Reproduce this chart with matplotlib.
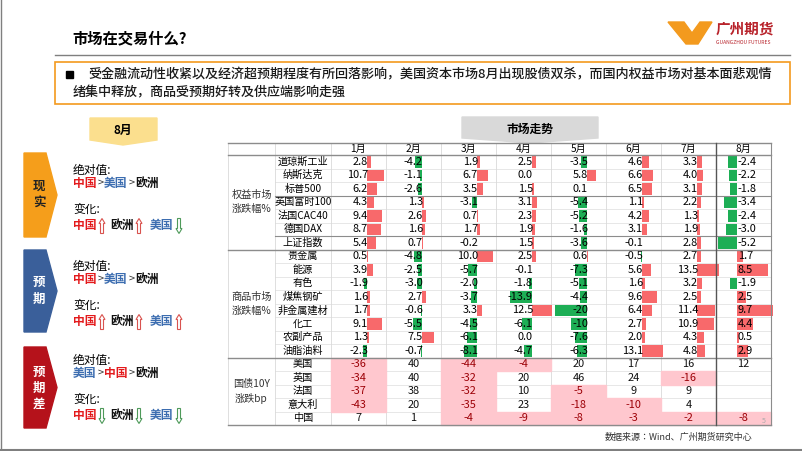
import matplotlib
matplotlib.use('Agg')
import matplotlib.pyplot as plt
from matplotlib.patches import Rectangle, Polygon

plt.rcParams['font.family'] = ['Noto Sans CJK JP', 'DejaVu Sans']

# ---- data ----
months = ['1月', '2月', '3月', '4月', '5月', '6月', '7月', '8月']

equity_names = ['道琼斯工业', '纳斯达克', '标普500', '英国富时100', '法国CAC40', '德国DAX', '上证指数']
equity_values = [
    [2.8, -4.2, 1.9, 2.5, -3.5, 4.6, 3.3, -2.4],
    [10.7, -1.1, 6.7, 0.0, 5.8, 6.6, 4.0, -2.2],
    [6.2, -2.6, 3.5, 1.5, 0.1, 6.5, 3.1, -1.8],
    [4.3, 1.3, -3.1, 3.1, -5.4, 1.1, 2.2, -3.4],
    [9.4, 2.6, 0.7, 2.3, -5.2, 4.2, 1.3, -2.4],
    [8.7, 1.6, 1.7, 1.9, -1.6, 3.1, 1.9, -3.0],
    [5.4, 0.7, -0.2, 1.5, -3.6, -0.1, 2.8, -5.2],
]

commodity_names = ['贵金属', '能源', '有色', '煤焦钢矿', '非金属建材', '化工', '农副产品', '油脂油料']
commodity_values = [
    [0.5, -4.8, 10.0, 2.5, 0.6, -0.5, 2.7, 1.7],
    [3.9, -2.5, -5.7, -0.1, -7.3, 5.6, 13.5, 8.5],
    [-1.9, -3.0, -2.0, -1.8, -5.1, 1.6, 3.2, -1.9],
    [1.6, 2.7, -3.7, -13.9, -4.4, 9.6, 2.5, 2.5],
    [1.7, -0.6, 3.3, 12.5, -20, 6.4, 11.4, 9.7],
    [9.1, -5.5, -4.5, -6.1, -10, 2.7, 10.9, 4.4],
    [1.3, 7.5, -6.1, 0.0, -7.6, 2.0, 4.3, 0.5],
    [-2.3, -0.7, -8.1, -4.7, -6.3, 13.1, 4.8, 2.9],
]

bond_names = ['美国', '英国', '法国', '意大利', '中国']
bond_values = [
    [-36, 40, -44, -4, 20, 17, 16, 12],
    [-34, 40, -32, 20, 46, 24, -16, None],
    [-37, 38, -32, 10, -5, 9, 9, None],
    [-43, 20, -35, 23, -18, -10, 4, None],
    [7, 1, -4, -9, -8, -3, -2, -8],
]

RED = '#F8696B'
GREEN = '#1DAE55'

fig = plt.figure(figsize=(8.02, 4.51), dpi=100)
ax = fig.add_axes([0, 0, 1, 1])
ax.set_xlim(0, 802)
ax.set_ylim(451, 0)
ax.axis('off')

# ---- header ----
ax.text(72, 38, '市场在交易什么?', fontsize=11, weight='bold', va='center')
ax.plot([55, 790], [55, 55], color='#7F7F7F', lw=1)
ax.add_patch(Polygon([[668, 22], [684, 22], [692, 33], [700, 22], [712, 22], [698, 44], [686, 44]],
                     closed=True, color='#F39A1E'))
ax.text(716, 29, '广州期货', fontsize=10.5, weight='bold', color='#B8232B', va='center')
ax.text(716, 42, 'GUANGZHOU FUTURES', fontsize=3.6, color='#B8232B', va='center')
ax.plot([0, 802], [450, 450], color='#7F7F7F', lw=1.5)
ax.plot([1, 1], [0, 451], color='#7F7F7F', lw=1)

# headline box
ax.add_patch(Rectangle((55, 62), 735, 42, fill=False, ec='#F39A1E', lw=1.2))
ax.add_patch(Rectangle((66, 71), 7, 7, color='black'))
ax.text(88, 75, '受金融流动性收紧以及经济超预期程度有所回落影响，美国资本市场8月出现股债双杀，而国内权益市场对基本面悲观情',
        fontsize=9.4, va='center', color='#1A1A1A', weight='medium')
ax.text(73, 93, '绪集中释放，商品受预期好转及供应端影响走强', fontsize=9.4, va='center', color='#1A1A1A',
        weight='medium')

# tabs
ax.add_patch(Polygon([[90, 118], [157, 118], [157, 140], [123, 145], [90, 140]], color='#FBDF8E'))
ax.text(123, 130, '8月', fontsize=8.5, weight='bold', ha='center', va='center')
ax.add_patch(Polygon([[462, 117], [598, 117], [598, 138], [530, 143], [462, 138]], color='#D9D9D9'))
ax.text(530, 129, '市场走势', fontsize=8.5, weight='bold', ha='center', va='center')

# ---- left panel ----
def chevron(y0, y1, color):
    ym = (y0 + y1) / 2
    ax.add_patch(Polygon([[24, y0], [46, y0], [57, ym], [46, y1], [24, y1]], color=color))

def arrow(x, y, up, color):
    h, w, hw, hh = 15, 3, 6, 5
    s = -1 if up else 1
    pts = [[x - w / 2, y - s * h / 2], [x - w / 2, y + s * (h / 2 - hh)], [x - hw / 2, y + s * (h / 2 - hh)],
           [x, y + s * h / 2], [x + hw / 2, y + s * (h / 2 - hh)], [x + w / 2, y + s * (h / 2 - hh)],
           [x + w / 2, y - s * h / 2]]
    ax.add_patch(Polygon(pts, closed=True, fill=False, ec=color, lw=0.8))

CN, US, EU = '#E31A1C', '#3C6DB0', '#111111'
names_color = {'中国': CN, '美国': US, '欧洲': EU}

def block(y, order, changes):
    ax.text(73, y, '绝对值:', fontsize=8.5, va='center')
    x = 73
    for i, n in enumerate(order):
        ax.text(x, y + 13, n, fontsize=8.5, weight='bold', color=names_color[n], va='center')
        x += 24
        if i < 2:
            ax.text(x + 0.5, y + 13, '>', fontsize=8, color='#333', va='center')
            x += 7
    ax.text(73, y + 39, '变化:', fontsize=8.5, va='center')
    xs = [73, 110, 150]
    for xx, (n, up) in zip(xs, changes):
        ax.text(xx, y + 55, n, fontsize=8.5, weight='bold', color=names_color[n], va='center')
        arrow(xx + 29, y + 56, up, '#D9534F' if up else '#4E9A5A')

chevron(153, 237, '#F59E1B')
ax.text(39, 195, '现\n实', fontsize=9, weight='bold', ha='center', va='center', color='#222', linespacing=1.4)
block(170, ['中国', '美国', '欧洲'], [('中国', True), ('欧洲', True), ('美国', False)])
chevron(250, 332, '#3A5F9A')
ax.text(39, 291, '预\n期', fontsize=9, weight='bold', ha='center', va='center', color='white', linespacing=1.4)
block(266, ['中国', '美国', '欧洲'], [('中国', True), ('欧洲', True), ('美国', True)])
chevron(347, 428, '#B5121B')
ax.text(39, 388, '预\n期\n差', fontsize=9, weight='bold', ha='center', va='center', color='white', linespacing=1.3)
block(360, ['美国', '中国', '欧洲'], [('中国', False), ('欧洲', False), ('美国', False)])

# ---- table ----
x_left, x_name, x_m0, col_w = 228, 275, 331, 55
x_right = x_m0 + col_w * 8
y_top, y_head, row_h = 143, 155, 13.5
fs = 7.3
fd = 7.9

for j, m in enumerate(months):
    ax.text(x_m0 + col_w * (j + 0.5), (y_top + y_head) / 2, m, fontsize=fs, ha='center', va='center')

def row_y(i):
    return y_head + row_h * i

def bar_rows(start, names, values):
    for r, (name, vals) in enumerate(zip(names, values)):
        yc = row_y(start + r) + row_h / 2
        ax.text((x_name + x_m0) / 2, yc, name, fontsize=fs, ha='center', va='center')
        for j, v in enumerate(vals):
            c0 = x_m0 + col_w * j
            if j < 7:
                z, scale = c0 + 36, 1.6
            else:
                z, scale = c0 + 21, 3.7
            ax.barh(yc, v * scale, left=z, height=row_h - 2, color=RED if v > 0 else GREEN, zorder=2)
            if j < 7:
                label = f'{v:.0f}' if v in (-20, -10) else f'{v:.1f}'
                ax.text(z + 1, yc, label, fontsize=fd, ha='right', va='center', zorder=3)
            else:
                ax.text(z + 1, yc, f'{v:.1f}', fontsize=fd, ha='left', va='center', zorder=3)

bar_rows(0, equity_names, equity_values)
bar_rows(7, commodity_names, commodity_values)

for r, (name, vals) in enumerate(zip(bond_names, bond_values)):
    yc = row_y(15 + r) + row_h / 2
    ax.text((x_name + x_m0) / 2, yc, name, fontsize=fs, ha='center', va='center')
    for j, v in enumerate(vals):
        if v is None:
            continue
        c0 = x_m0 + col_w * j
        if v < 0:
            ax.add_patch(Rectangle((c0, row_y(15 + r)), col_w, row_h, color='#FFC7CE', zorder=1))
        ax.text(c0 + col_w / 2, yc, f'{v}', fontsize=fd, ha='center', va='center',
                color='#9C0006' if v < 0 else '#111', zorder=3)

ax.text((x_left + x_name) / 2, row_y(3.5), '权益市场\n涨跌幅%', fontsize=fs, ha='center', va='center',
        color='#333', linespacing=1.5)
ax.text((x_left + x_name) / 2, row_y(11), '商品市场\n涨跌幅%', fontsize=fs, ha='center', va='center',
        color='#333', linespacing=1.5)
ax.text((x_left + x_name) / 2, row_y(17.5), '国债10Y\n涨跌bp', fontsize=fs, ha='center', va='center',
        color='#333', linespacing=1.5)

# grid lines
y_bot = row_y(20)
for i in range(1, 20):
    ax.plot([x_name, x_right], [row_y(i)] * 2, color='#E3E3E3', lw=0.6, zorder=0)
for i in [0, 7, 15]:
    ax.plot([x_left, x_right], [row_y(i)] * 2, color='#8C8C8C', lw=1, zorder=4)
for i in [3, 6]:
    ax.plot([x_name, x_right], [row_y(i)] * 2, color='#8C8C8C', lw=0.8, zorder=4)
ax.plot([x_left, x_right], [y_top] * 2, color='#8C8C8C', lw=1, zorder=4)
ax.plot([x_left, x_right], [y_bot] * 2, color='#8C8C8C', lw=1, zorder=4)
for x in [x_left, x_name] + [x_m0 + col_w * j for j in range(7)]:
    ax.plot([x, x], [y_top, y_bot], color='#D9D9D9', lw=0.6, zorder=0)
ax.plot([x_m0 + col_w * 7] * 2, [y_top, y_bot], color='#555', lw=1, zorder=4)
ax.plot([x_right] * 2, [y_top, y_bot], color='#8C8C8C', lw=0.8, zorder=4)

ax.text(752, 437, '数据来源：Wind、广州期货研究中心', fontsize=6.5, ha='right', va='center', color='#333')
ax.text(762, 421, '5', fontsize=5, color='#AAA', va='center')

fig.savefig('out.png', dpi=100)
